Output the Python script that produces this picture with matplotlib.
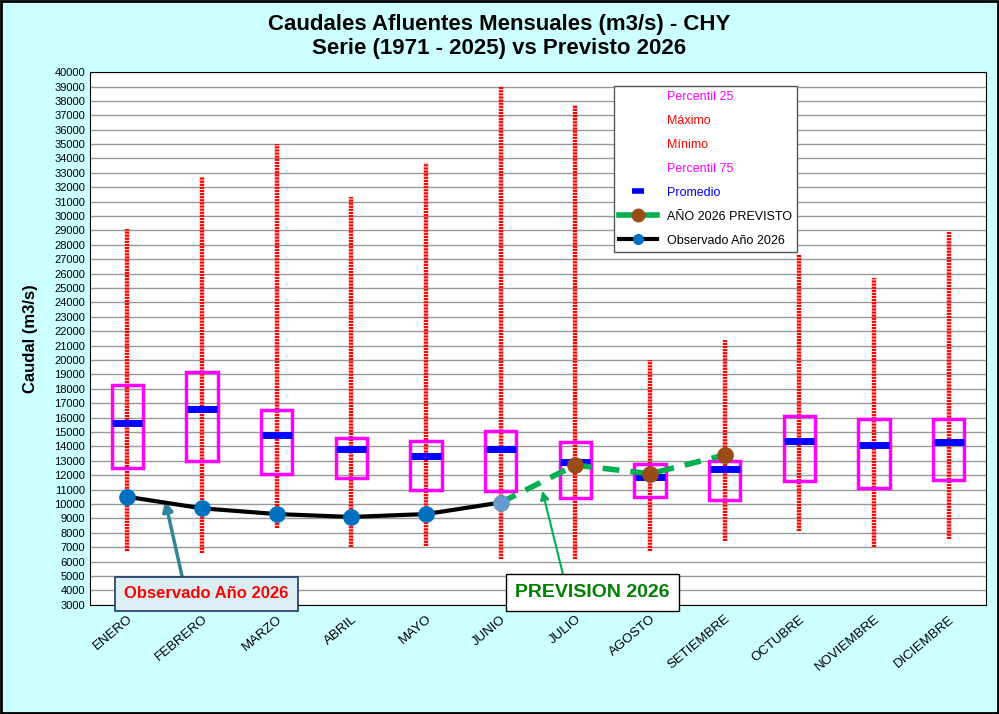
import numpy as np
import matplotlib
matplotlib.use("Agg")
import matplotlib.pyplot as plt
from matplotlib.patches import Rectangle
from matplotlib.lines import Line2D

plt.rcParams["font.family"] = ["Liberation Sans", "DejaVu Sans"]

meses = ["ENERO", "FEBRERO", "MARZO", "ABRIL", "MAYO", "JUNIO", "JULIO",
         "AGOSTO", "SETIEMBRE", "OCTUBRE", "NOVIEMBRE", "DICIEMBRE"]
maximo = [29100, 32700, 35000, 31300, 33700, 39000, 37700, 20000, 21400, 27400, 25700, 28900]
minimo = [6700, 6600, 8300, 7000, 7100, 6200, 6200, 6700, 7400, 8100, 7000, 7600]
p75 = [18300, 19200, 16500, 14600, 14400, 15100, 14300, 12800, 13000, 16100, 15900, 15900]
p25 = [12500, 13000, 12100, 11800, 11000, 10900, 10400, 10500, 10300, 11600, 11100, 11700]
promedio = [15600, 16600, 14800, 13800, 13300, 13800, 12900, 11900, 12400, 14400, 14100, 14300]
observado = [10500, 9700, 9300, 9100, 9300, 10100]
previsto_idx = [5, 6, 7, 8]
previsto = [10100, 12700, 12100, 13400]

fig = plt.figure(figsize=(9.99, 7.14), dpi=100, facecolor="#CCFFFF")
fig.patches.append(Rectangle((0.001, 0.001), 0.998, 0.998, transform=fig.transFigure,
                             fill=False, ec="black", lw=2))
ax = fig.add_axes([0.090, 0.153, 0.897, 0.746])
x = np.arange(len(meses))

ax.set_ylim(3000, 40000)
ax.set_xlim(-0.5, 11.5)
ax.set_yticks(np.arange(3000, 40001, 1000))
ax.tick_params(axis="y", labelsize=8, length=0)
ax.grid(True, axis="y", color="#999999", lw=1.0)
ax.set_axisbelow(True)

# max-min range
ax.vlines(x, minimo, maximo, colors="#FF0000", lw=3.2, linestyles=(0, (0.5, 0.2)), zorder=2)
# percentile boxes
w = 0.42
for xi, lo, hi in zip(x, p25, p75):
    ax.add_patch(Rectangle((xi - w / 2, lo), w, hi - lo, fill=False, ec="#FF00FF", lw=2.5, zorder=3))
ax.hlines(promedio, x - 0.2, x + 0.2, colors="#0000FF", lw=5, zorder=4)

ax.plot(x[:6], observado, color="black", lw=3, zorder=5)
ax.plot(x[:5], observado[:5], "o", color="#0070C0", ms=11, zorder=6)
ax.plot(x[5], observado[5], "o", color="#6699CC", ms=11, zorder=7)
ax.plot(previsto_idx, previsto, color="#00B050", lw=4, ls=(0, (3, 2)), zorder=5)
ax.plot(previsto_idx[1:], previsto[1:], "o", color="#994C16", ms=11, zorder=6)

ax.set_xticks(x)
ax.set_xticklabels(meses, rotation=40, ha="right", fontsize=9.5, rotation_mode="anchor")
ax.tick_params(axis="x", length=0, pad=6)
ax.set_ylabel("Caudal (m3/s)", fontsize=12, fontweight="bold", labelpad=12)
fig.suptitle("Caudales Afluentes Mensuales (m3/s) - CHY\nSerie (1971 - 2025) vs Previsto 2026",
             fontsize=16, fontweight="bold", y=0.98)

handles = [Line2D([], [], ls="none"), Line2D([], [], ls="none"), Line2D([], [], ls="none"),
           Line2D([], [], ls="none"),
           Line2D([], [], color="#0000FF", marker="_", ls="none", ms=8, mew=4),
           Line2D([], [], color="#00B050", lw=4, marker="o", mfc="#994C16", mec="#994C16", ms=9),
           Line2D([], [], color="black", lw=3, marker="o", mfc="#0070C0", mec="#0070C0", ms=7)]
labels = ["Percentil 25", "Máximo", "Mínimo", "Percentil 75", "Promedio",
          "AÑO 2026 PREVISTO", "Observado Año 2026"]
leg = ax.legend(handles, labels, loc="upper left", bbox_to_anchor=(0.578, 0.985), fontsize=9,
                frameon=True, fancybox=False, edgecolor="#555555", framealpha=1,
                labelspacing=0.95, handlelength=3)
for t, c in zip(leg.get_texts(), ["#FF00FF", "#FF0000", "#FF0000", "#FF00FF", "#0000FF", "black", "black"]):
    t.set_color(c)

ax.text(1.06, 3750, "Observado Año 2026", fontsize=12, fontweight="bold", color="#FF0000",
        ha="center", va="center", zorder=8,
        bbox=dict(boxstyle="square,pad=0.55", fc="#DAEEF3", ec="#1F3864", lw=1.2))
ax.annotate("", xy=(0.5, 10400), xytext=(0.75, 4600),
            arrowprops=dict(arrowstyle="-|>", color="#31849B", lw=2.5, mutation_scale=15))
ax.text(6.23, 3850, "PREVISION 2026", fontsize=14, fontweight="bold", color="#008000",
        ha="center", va="center", zorder=8,
        bbox=dict(boxstyle="square,pad=0.5", fc="white", ec="black", lw=1))
ax.annotate("", xy=(5.55, 11100), xytext=(5.85, 4800),
            arrowprops=dict(arrowstyle="-|>", color="#00B050", lw=1.5, mutation_scale=13))

fig.savefig("out.png", dpi=100, facecolor=fig.get_facecolor())
